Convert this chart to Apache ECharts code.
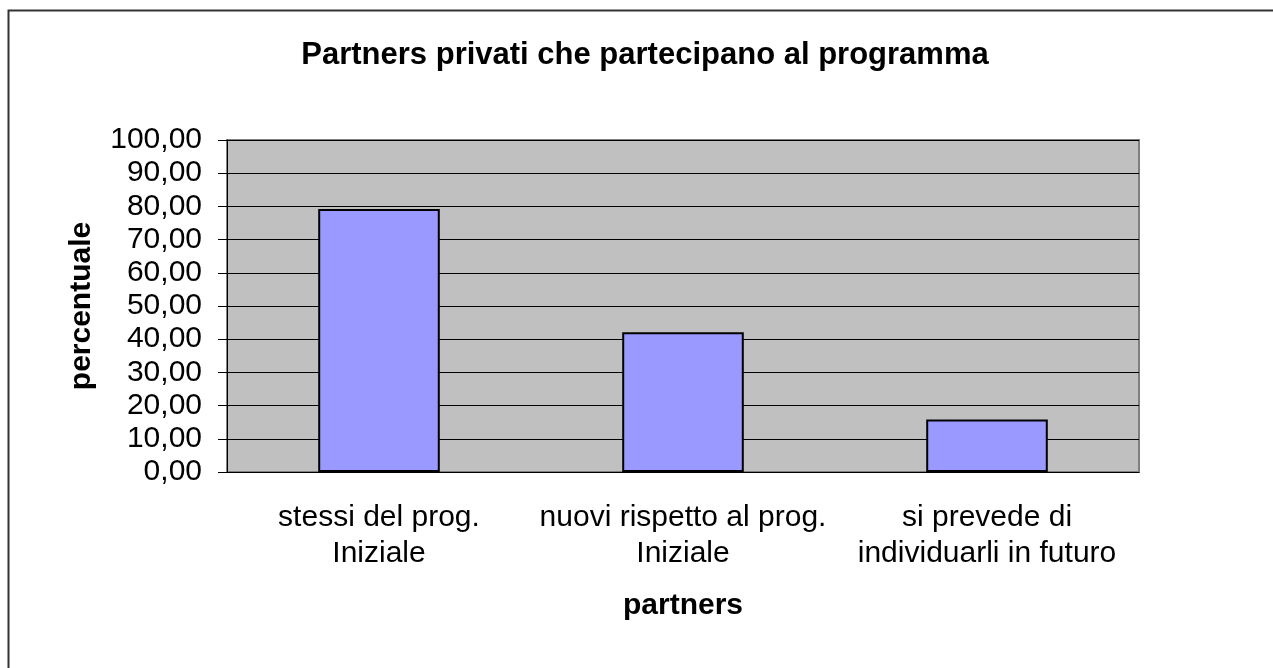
<!DOCTYPE html>
<html>
<head>
<meta charset="utf-8">
<script src="https://cdn.jsdelivr.net/npm/echarts@6/dist/echarts.min.js"></script>
<style>
  html, body { margin: 0; padding: 0; background: #fff; }
  #chart { width: 1273px; height: 668px; }
</style>
</head>
<body>
<div id="chart"></div>
<script>
// dati
const categories = ['stessi del prog.\nIniziale', 'nuovi rispetto al prog.\nIniziale', 'si prevede di\nindividuarli in futuro'];
const values = [79.2, 42.1, 15.8];
const titleText = 'Partners privati che partecipano al programma';

const font = 'Liberation Sans, Arial, sans-serif';
let myChart = echarts.init(document.getElementById('chart'));

let option = {
  animation: false,
  backgroundColor: '#fff',
  graphic: [{
    type: 'rect',
    shape: { x: 8.5, y: 10.5, width: 1300, height: 700 },
    style: { fill: 'none', stroke: '#333', lineWidth: 2 },
    silent: true
  }, {
    // titolo
    type: 'text',
    x: 645, y: 55,
    style: {
      text: titleText, fill: '#000',
      font: 'bold 31px ' + font,
      textAlign: 'center', textVerticalAlign: 'middle'
    },
    silent: true
  }],
  grid: {
    left: 227, right: 134, top: 140, bottom: 196,
    show: true,
    backgroundColor: '#c0c0c0',
    borderColor: '#808080',
    borderWidth: 2
  },
  xAxis: {
    type: 'category',
    data: categories,
    name: 'partners',
    nameLocation: 'middle',
    nameGap: 119,
    nameTextStyle: { fontFamily: font, fontSize: 30, fontWeight: 'bold', color: '#000' },
    axisLine: { lineStyle: { color: '#000', width: 1 } },
    axisTick: { length: 10, lineStyle: { color: '#000' } },
    axisLabel: {
      interval: 0, hideOverlap: false,
      fontFamily: font, fontSize: 30, color: '#000', margin: 28, lineHeight: 36
    }
  },
  yAxis: {
    type: 'value',
    min: 0, max: 100, interval: 10,
    name: 'percentuale',
    nameLocation: 'middle',
    nameGap: 130,
    nameTextStyle: { fontFamily: font, fontSize: 30, fontWeight: 'bold', color: '#000' },
    axisLine: { show: true, lineStyle: { color: '#000', width: 1 } },
    axisTick: { show: true, length: 9, lineStyle: { color: '#000' } },
    axisLabel: {
      fontFamily: font, fontSize: 30, color: '#000', margin: 25,
      formatter: v => v.toFixed(2).replace('.', ',')
    },
    splitLine: { lineStyle: { color: '#000', width: 1 } }
  },
  series: [{
    type: 'bar',
    data: values,
    barWidth: '40%',
    itemStyle: { color: '#9999ff', borderColor: '#000', borderWidth: 2 }
  }]
};
myChart.setOption(option);
</script>
</body>
</html>
